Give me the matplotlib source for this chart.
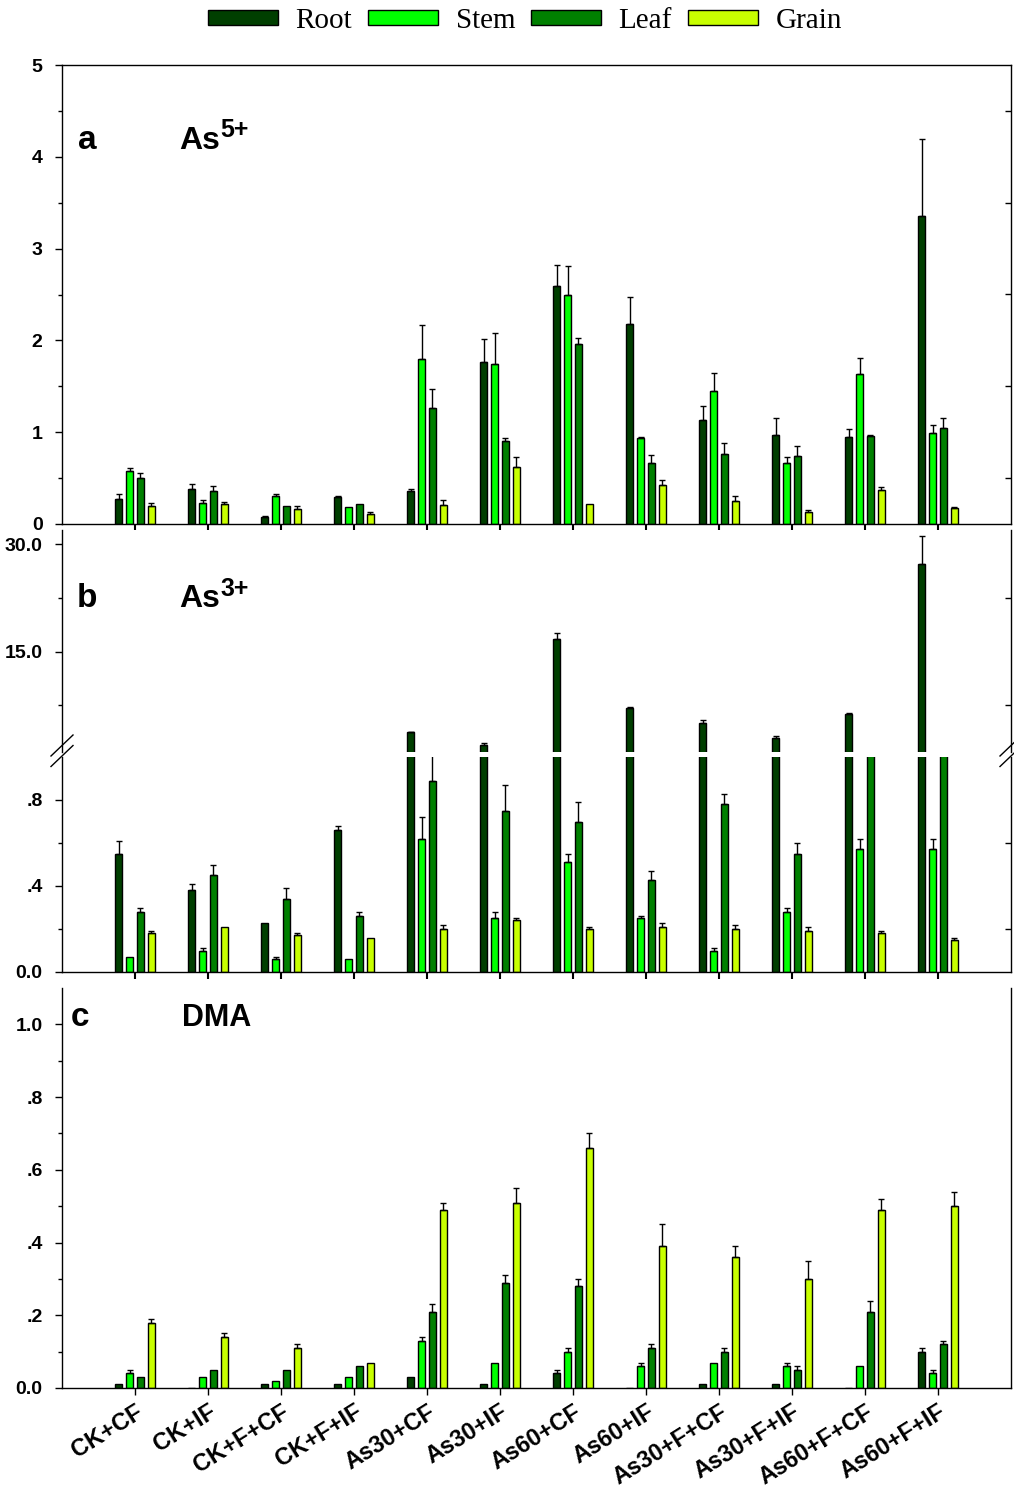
import numpy as np
import matplotlib
matplotlib.use('Agg')
import matplotlib.pyplot as plt
from matplotlib.ticker import FixedLocator, FuncFormatter
from matplotlib.lines import Line2D

plt.rcParams['font.family'] = ['Liberation Sans', 'DejaVu Sans']
plt.rcParams['font.weight'] = 'bold'

# ── data ──────────────────────────────────────────────
treatments = ['CK+CF', 'CK+IF', 'CK+F+CF', 'CK+F+IF', 'As30+CF', 'As30+IF',
              'As60+CF', 'As60+IF', 'As30+F+CF', 'As30+F+IF', 'As60+F+CF', 'As60+F+IF']
organs = ['Root', 'Stem', 'Leaf', 'Grain']
colors = ['#003f00', '#00ff00', '#008000', '#c8ff00']

# As5+
a_root = [0.27, 0.38, 0.08, 0.29, 0.36, 1.76, 2.59, 2.18, 1.13, 0.97, 0.95, 3.36]
a_root_err = [0.06, 0.06, 0.01, 0.02, 0.02, 0.25, 0.23, 0.29, 0.16, 0.18, 0.08, 0.83]
a_stem = [0.58, 0.23, 0.30, 0.18, 1.80, 1.74, 2.49, 0.94, 1.45, 0.66, 1.63, 0.99]
a_stem_err = [0.03, 0.03, 0.03, 0.0, 0.37, 0.34, 0.32, 0.01, 0.20, 0.07, 0.18, 0.09]
a_leaf = [0.50, 0.36, 0.20, 0.22, 1.26, 0.90, 1.96, 0.66, 0.76, 0.74, 0.96, 1.05]
a_leaf_err = [0.06, 0.05, 0.0, 0.0, 0.21, 0.04, 0.07, 0.09, 0.12, 0.11, 0.01, 0.11]
a_grain = [0.20, 0.22, 0.16, 0.11, 0.21, 0.62, 0.22, 0.42, 0.25, 0.13, 0.37, 0.17]
a_grain_err = [0.03, 0.02, 0.04, 0.02, 0.05, 0.11, 0.0, 0.06, 0.06, 0.02, 0.03, 0.02]

# As3+
b_root = [0.55, 0.38, 0.23, 0.66, 3.75, 2.0, 16.8, 7.1, 5.0, 2.9, 6.25, 27.2]
b_root_err = [0.06, 0.03, 0.0, 0.02, 0.1, 0.25, 0.8, 0.2, 0.4, 0.3, 0.15, 3.9]
b_stem = [0.07, 0.10, 0.06, 0.06, 0.62, 0.25, 0.51, 0.25, 0.10, 0.28, 0.57, 0.57]
b_stem_err = [0.0, 0.01, 0.01, 0.0, 0.10, 0.03, 0.04, 0.01, 0.01, 0.02, 0.05, 0.05]
b_leaf = [0.28, 0.45, 0.34, 0.26, 0.89, 0.75, 0.70, 0.43, 0.78, 0.55, 1.05, 1.05]
b_leaf_err = [0.02, 0.05, 0.05, 0.02, 0.2, 0.12, 0.09, 0.04, 0.05, 0.05, 0.0, 0.0]
b_grain = [0.18, 0.21, 0.17, 0.16, 0.20, 0.24, 0.20, 0.21, 0.20, 0.19, 0.18, 0.15]
b_grain_err = [0.01, 0.0, 0.01, 0.0, 0.02, 0.01, 0.01, 0.02, 0.02, 0.02, 0.01, 0.01]

# DMA
c_root = [0.01, 0.0, 0.01, 0.01, 0.03, 0.01, 0.04, 0.0, 0.01, 0.01, 0.0, 0.10]
c_root_err = [0, 0, 0, 0, 0, 0, 0.01, 0, 0, 0, 0, 0.01]
c_stem = [0.04, 0.03, 0.02, 0.03, 0.13, 0.07, 0.10, 0.06, 0.07, 0.06, 0.06, 0.04]
c_stem_err = [0.01, 0, 0, 0, 0.01, 0, 0.01, 0.01, 0, 0.01, 0, 0.01]
c_leaf = [0.03, 0.05, 0.05, 0.06, 0.21, 0.29, 0.28, 0.11, 0.10, 0.05, 0.21, 0.12]
c_leaf_err = [0, 0, 0, 0, 0.02, 0.02, 0.02, 0.01, 0.01, 0.01, 0.03, 0.01]
c_grain = [0.18, 0.14, 0.11, 0.07, 0.49, 0.51, 0.66, 0.39, 0.36, 0.30, 0.49, 0.50]
c_grain_err = [0.01, 0.01, 0.01, 0, 0.02, 0.04, 0.04, 0.06, 0.03, 0.05, 0.03, 0.04]

# ── figure ────────────────────────────────────────────
W, H = 1014, 1488
fig = plt.figure(figsize=(W / 100, H / 100), dpi=100)

def box(l, t, r, b):
    return [l / W, 1 - b / H, (r - l) / W, (b - t) / H]

ax_a = fig.add_axes(box(62, 65, 1011, 524))
ax_bu = fig.add_axes(box(62, 530, 1011, 752))
ax_bl = fig.add_axes(box(62, 757, 1011, 972))
ax_c = fig.add_axes(box(62, 988, 1011, 1388))

x = np.arange(len(treatments))
offsets = [-0.225, -0.075, 0.075, 0.225]
width = 0.095

def draw_bars(ax, vals, errs, floor=None):
    hs = []
    for i, (v, e) in enumerate(zip(vals, errs)):
        v = np.array(v, dtype=float)
        e = np.array(e, dtype=float)
        if floor is not None:
            # only the part of the series that reaches into this axis range
            keep = v > floor
        else:
            keep = np.ones(len(v), dtype=bool)
        h = ax.bar((x + offsets[i])[keep], v[keep], width, color=colors[i],
                   edgecolor='black', linewidth=1, label=organs[i])
        hs.append(h)
        m = keep & (e > 0)
        ax.errorbar((x + offsets[i])[m], v[m], yerr=[np.zeros(m.sum()), e[m]],
                    fmt='none', ecolor='black', elinewidth=1, capsize=2.5, capthick=1)
    return hs

handles = draw_bars(ax_a, [a_root, a_stem, a_leaf, a_grain],
                    [a_root_err, a_stem_err, a_leaf_err, a_grain_err])
draw_bars(ax_bu, [b_root, b_stem, b_leaf, b_grain],
          [b_root_err, b_stem_err, b_leaf_err, b_grain_err], floor=1.1)
draw_bars(ax_bl, [b_root, b_stem, b_leaf, b_grain],
          [b_root_err, b_stem_err, b_leaf_err, b_grain_err])
draw_bars(ax_c, [c_root, c_stem, c_leaf, c_grain],
          [c_root_err, c_stem_err, c_leaf_err, c_grain_err])

def dotfmt(v, pos):
    s = f'{v:.1f}'
    if s.startswith('0.') and s != '0.0':
        s = s[1:]
    return s

def setup_y(ax, lim, major, minor, fmt, right=True):
    ax.set_ylim(*lim)
    ax.yaxis.set_major_locator(FixedLocator(major))
    ax.yaxis.set_minor_locator(FixedLocator(minor))
    ax.yaxis.set_major_formatter(FuncFormatter(fmt))
    ax.tick_params(axis='y', which='major', direction='out', length=5, width=1, labelsize=14, pad=9)
    ax.tick_params(axis='y', which='minor', direction='out', length=3, width=1)
    if right:
        # inward minor ticks on the right spine
        t = ax.twinx()
        t.set_ylim(*lim)
        t.set_yticks([])
        t.set_yticks(minor, minor=True)
        t.tick_params(which='minor', direction='in', length=4, width=1)
        for s in t.spines.values():
            s.set_visible(False)

setup_y(ax_a, (0, 5), [0, 1, 2, 3, 4, 5], [0.5, 1.5, 2.5, 3.5, 4.5], lambda v, p: f'{v:.0f}')
setup_y(ax_bu, (1, 32), [15, 30], [7.5, 22.5], lambda v, p: f'{v:.1f}')
setup_y(ax_bl, (0, 1), [0, 0.4, 0.8], [0.2, 0.6], dotfmt)
setup_y(ax_c, (0, 1.1), [0, 0.2, 0.4, 0.6, 0.8, 1.0], [0.1, 0.3, 0.5, 0.7, 0.9], dotfmt, right=False)

for ax in (ax_a, ax_bu, ax_bl, ax_c):
    ax.set_xlim(-1, 12)
    ax.set_xticks(x)
    ax.tick_params(axis='x', direction='out', length=5, width=1.5)
    for s in ax.spines.values():
        s.set_linewidth(1)

ax_a.set_xticklabels([])
ax_bl.set_xticklabels([])
ax_bu.set_xticks([])
ax_c.set_xticklabels(treatments, rotation=32, ha='right', rotation_mode='anchor', fontsize=17)
ax_c.tick_params(axis='x', width=1, pad=4)

ax_bu.spines['top'].set_visible(False)
ax_bu.spines['bottom'].set_visible(False)
ax_bl.spines['top'].set_visible(False)
ax_c.spines['top'].set_visible(False)

# axis break marks
for xc in (62, 1011):
    for yc in (745.5, 756):
        fig.add_artist(Line2D([(xc - 11) / W, (xc + 11) / W],
                              [1 - (yc + 10.5) / H, 1 - (yc - 10.5) / H],
                              color='black', linewidth=1))

# panel labels
ax_a.text(0.017, 0.817, 'a', transform=ax_a.transAxes, fontsize=24, fontweight='bold')
ax_a.text(0.124, 0.817, 'As', transform=ax_a.transAxes, fontsize=23, fontweight='bold')
ax_a.text(0.1665, 0.843, '5+', transform=ax_a.transAxes, fontsize=18, fontweight='bold')
ax_bu.text(0.016, 0.653, 'b', transform=ax_bu.transAxes, fontsize=24, fontweight='bold')
ax_bu.text(0.124, 0.653, 'As', transform=ax_bu.transAxes, fontsize=23, fontweight='bold')
ax_bu.text(0.1665, 0.703, '3+', transform=ax_bu.transAxes, fontsize=18, fontweight='bold')
ax_c.text(0.0095, 0.905, 'c', transform=ax_c.transAxes, fontsize=24, fontweight='bold')
ax_c.text(0.126, 0.905, 'DMA', transform=ax_c.transAxes, fontsize=22, fontweight='bold')

fig.legend(handles, organs, loc='center', bbox_to_anchor=(525 / W, 1 - 21 / H), ncol=4,
           frameon=False, prop=dict(family='Liberation Serif', size=21, weight='normal'),
           handlelength=2.4, handleheight=0.45, handletextpad=0.6, columnspacing=0.55)

fig.savefig('out.png', dpi=100, facecolor='white')
